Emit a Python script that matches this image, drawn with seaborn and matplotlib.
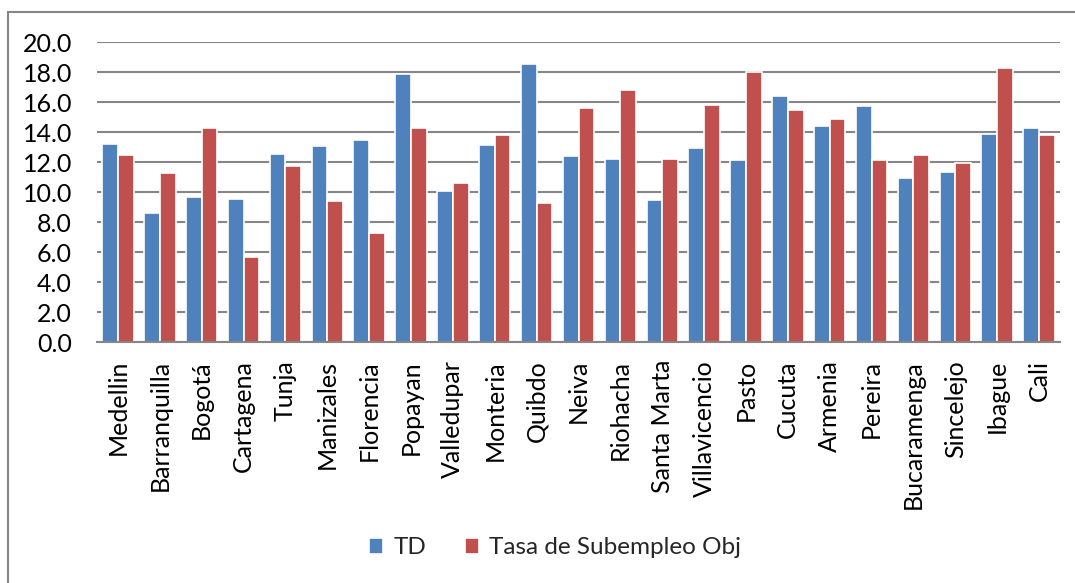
import matplotlib
matplotlib.use("Agg")
import matplotlib.pyplot as plt
import seaborn as sns
import pandas as pd
from matplotlib.patches import Rectangle

cities = ["Medellin", "Barranquilla", "Bogotá", "Cartagena", "Tunja", "Manizales",
          "Florencia", "Popayan", "Valledupar", "Monteria", "Quibdo", "Neiva",
          "Riohacha", "Santa Marta", "Villavicencio", "Pasto", "Cucuta", "Armenia",
          "Pereira", "Bucaramenga", "Sincelejo", "Ibague", "Cali"]
td = [13.22, 8.62, 9.64, 9.51, 12.56, 13.04, 13.44, 17.84, 10.09, 13.11, 18.51, 12.38,
      12.22, 9.44, 12.91, 12.11, 16.40, 14.42, 15.73, 10.93, 11.33, 13.84, 14.27]
subempleo = [12.49, 11.24, 14.24, 5.64, 11.71, 9.38, 7.29, 14.24, 10.60, 13.78, 9.29, 15.58,
             16.82, 12.20, 15.78, 18.00, 15.44, 14.87, 12.13, 12.47, 11.93, 18.24, 13.82]
series_names = ["TD", "Tasa de Subempleo Obj"]
yticks = [0, 2, 4, 6, 8, 10, 12, 14, 16, 18, 20]

df = pd.DataFrame({
    "Ciudad": cities * 2,
    "Valor": td + subempleo,
    "Serie": [series_names[0]] * len(cities) + [series_names[1]] * len(cities),
})

sns.set_theme(style="white")
plt.rcParams["font.family"] = ["Lato", "DejaVu Sans"]

fig = plt.figure(figsize=(10.75, 5.83), dpi=100)
ax = fig.add_axes([97 / 1075, 1 - 342 / 583, (1060 - 97) / 1075, 300 / 583])

palette = {"TD": "#4F81BD", "Tasa de Subempleo Obj": "#C0504D"}
sns.barplot(data=df, x="Ciudad", y="Valor", hue="Serie", palette=palette,
            width=0.75, edgecolor="white", linewidth=1.2, saturation=1,
            ax=ax, zorder=3)

ax.set_ylim(0, 20)
ax.set_xlim(-0.5, len(cities) - 0.5)
ax.set_yticks(yticks)
ax.set_yticklabels([f"{v:.1f}" for v in yticks], fontsize=18, color="black")
ax.set_xticks(range(len(cities)))
ax.set_xticklabels(cities, rotation=90, fontsize=18, color="black")
ax.tick_params(axis="both", length=0)
ax.tick_params(axis="y", pad=18)
ax.tick_params(axis="x", pad=13)
ax.set_xlabel("")
ax.set_ylabel("")
ax.yaxis.grid(True, color="#868686", linewidth=1.5, zorder=0)
ax.set_axisbelow(True)
for s in ["left", "right", "top"]:
    ax.spines[s].set_visible(False)
ax.spines["bottom"].set_color("#868686")
ax.spines["bottom"].set_linewidth(1.5)
ax.spines["bottom"].set_zorder(4)

leg = ax.legend(loc="center", bbox_to_anchor=(555 / 1075, 1 - 548 / 583),
                bbox_transform=fig.transFigure, ncol=2, frameon=False,
                fontsize=17.5, handlelength=0.6, handleheight=0.6,
                handletextpad=0.4, columnspacing=1.6)

fig.patches.append(Rectangle((7.5 / 1075, -0.1), 1.2, 1 - 12 / 583 + 0.1,
                             transform=fig.transFigure, fill=False,
                             edgecolor="#868686", linewidth=1.5))

fig.savefig("out.png", dpi=100, facecolor="white")
